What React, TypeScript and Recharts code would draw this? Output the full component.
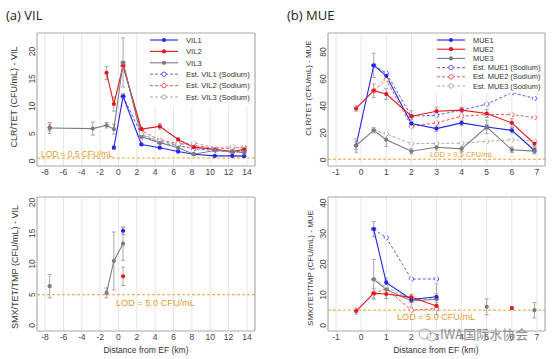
import React from 'react';
import { CartesianGrid, ErrorBar, Line, LineChart, ReferenceArea, ReferenceLine, XAxis, YAxis } from 'recharts';

const FONT = '"Liberation Sans", Arial, sans-serif';

// distance from EF (km)
const vilKm = [-7.5, -2.8, -1.3, -0.5, 0.5, 2.5, 4.5, 6.5, 8.2, 10.5, 12.4, 13.7];
const mueKm = [-0.2, 0.5, 1, 2, 3, 4, 5, 6, 6.9];

// tick labels
const vilTicks = [-8, -6, -4, -2, 0, 2, 4, 6, 8, 10, 12, 14];
const mueTicks = [-1, 0, 1, 2, 3, 4, 5, 6, 7];
const vilClrTicks = [0, 5, 10, 15, 20];
const vilSmxTicks = [0, 5, 10, 15, 20];
const mueClrTicks = [0, 20, 40, 60, 80];
const mueSmxTicks = [0, 10, 20, 30, 40];

// (a) VIL - CLR/TET
const vil1Clr = [null, null, null, 2.4, 11.8, 3.0, 2.4, 1.7, 1.2, 0.9, 0.9, 0.85];
const vil2Clr = [6.1, null, 16.1, 10.4, 17.4, 5.8, 6.3, 3.9, 2.5, 2.1, 1.7, 2.1];
const vil3Clr = [6.0, 5.9, 6.5, 5.8, 18.0, 4.4, 3.3, 2.4, 1.2, 1.9, 1.7, 1.5];
const vil1ClrErr = [null, null, null, 0.3, 0.5, 0.2, 0.2, 0.2, 0.1, 0.1, 0.1, 0.1];
const vil2ClrErr = [0.6, null, 1.2, 1.3, 0.8, 0.4, 0.5, 0.3, 0.2, 0.2, 0.2, 0.2];
const vil3ClrErr = [1.0, 1.2, 0.5, 0.9, 4.5, 0.4, 0.3, 0.3, 0.2, 0.2, 0.2, 0.2];
const estVil1Clr = [null, null, null, null, 11.8, 4.8, 3.3, 2.8, 2.2, 1.9, 1.6, 1.8];
const estVil2Clr = [null, null, null, null, 17.4, 5.5, 3.8, 3.2, 2.8, 2.3, 2.3, 2.5];
const estVil3Clr = [null, null, null, null, 18.0, 4.9, 3.6, 3.0, 3.3, 2.4, 2.6, 2.3];

// (a) VIL - SMX/TET/TMP
const vil1Smx = [null, null, null, null, 15.4, null, null, null, null, null, null, null];
const vil2Smx = [null, null, null, null, 8.0, null, null, null, null, null, null, null];
const vil3Smx = [6.4, null, 5.3, 10.5, 13.3, null, null, null, null, null, null, null];
const vil1SmxErr = [null, null, null, null, 0.6, null, null, null, null, null, null, null];
const vil2SmxErr = [null, null, null, null, 1.5, null, null, null, null, null, null, null];
const vil3SmxErr = [1.9, null, 0.8, 4.7, 2.7, null, null, null, null, null, null, null];

// (b) MUE - CLR/TET
const mue1Clr = [10.7, 70, 62.3, 26.9, 23.2, 27.4, 24.4, 21.9, 7];
const mue2Clr = [38.1, 51.3, 48.8, 32.4, 36.1, 36.9, 34.4, 27.4, 12];
const mue3Clr = [10.7, 21.9, 15, 6.4, 9.4, 8.2, 24.4, 7.5, 6.5];
const mue1ClrErr = [3, 9, 2, 3, 2, 2, 2, 2, 2];
const mue2ClrErr = [2, 5, 4, 4, 3, 2, 3, 3, 2];
const mue3ClrErr = [5, 2, 5, 2, 2, 2, 5, 2, 2];
const estMue1Clr = [null, 70, 64.3, 32.4, 33.1, 36.9, 41.3, 49.8, 45.6];
const estMue2Clr = [null, 51.3, 59.3, 24.9, 27.4, 32.4, 33.6, 33.6, 31.4];
const estMue3Clr = [null, 21.9, 19.4, 12, 12.2, 12.4, 13.7, 15, 14];

// (b) MUE - SMX/TET/TMP
const mue1Smx = [null, 31.5, 14, 8.5, 9.4, null, null, null, null];
const mue2Smx = [4.7, 10.5, 10.3, 9.2, 6.4, null, null, 5.7, null];
const mue3Smx = [null, 15.1, 11.8, 8.0, 8.6, null, 6.1, null, 5.0];
const mue1SmxErr = [null, 2.5, 1.5, 1, 1, null, null, null, null];
const mue2SmxErr = [1, 1.5, 1.5, 1, 1, null, null, 0.5, null];
const mue3SmxErr = [null, 6.5, 3, 2, 5, null, 2.6, null, 2.5];
const estMue1Smx = [null, 31.5, 28.7, 15.2, 15.2, null, null, null, null];
const estMue2Smx = [null, 10.5, 12, 5.0, 5.5, null, null, null, null];
const estMue3Smx = [null, 15.1, 12.5, 8.5, 8.8, null, null, null, null];

const BLUE = '#2424ea';
const RED = '#e5161e';
const GRAY = '#7c7c7c';
const EST_BLUE = '#5c5cf2';
const EST_RED = '#f05c5c';
const EST_GRAY = '#adadad';
const ERR = '#a8a8a8';
const LOD = '#eca23c';
const LOD_TEXT = '#e39b2e';

type Val = number | null;
type Series = { name: string; ys: Val[]; errs?: Val[]; color: string; est?: boolean };

const toPoints = (xs: number[], ys: Val[], errs?: Val[]) =>
  xs.map((x, i) => ({ x, y: ys[i], err: errs ? errs[i] : null }));

const rotTick = (fs: number) => (props: any) => {
  const { x, y, payload } = props;
  return (
    <text x={x} y={y} transform={`rotate(-90 ${x} ${y})`} textAnchor="middle" fontSize={fs} fill="#444" fontFamily={FONT}>
      {payload.value}
    </text>
  );
};

type PanelProps = {
  left: number; top: number; height: number; yWidth: number; mTop: number; mBottom: number;
  km: number[]; xDomain: [number, number]; xTicks: number[];
  yDomain: [number, number]; yTicks: number[]; series: Series[]; lod: number; fs: number;
};

const Panel = (p: PanelProps) => {
  const ordered = [...p.series.filter(s => s.est), ...p.series.filter(s => !s.est)];
  return (
    <div style={{ position: 'absolute', left: p.left, top: p.top }}>
      <LineChart width={262} height={p.height} margin={{ top: p.mTop, right: 7, bottom: p.mBottom, left: 0 }}>
        <CartesianGrid horizontal={false} stroke="#e6e6e6" />
        <XAxis type="number" dataKey="x" domain={p.xDomain} ticks={p.xTicks} allowDataOverflow interval={0}
          axisLine={false} tickLine={false} tickSize={0} tickMargin={3} height={14}
          tick={{ fontSize: p.fs, fill: '#444', fontFamily: FONT }} />
        <YAxis type="number" domain={p.yDomain} ticks={p.yTicks} allowDataOverflow interval={0} width={p.yWidth}
          axisLine={false} tickLine={false} tickSize={0} tickMargin={2} tick={rotTick(p.fs)} />
        <ReferenceArea x1={p.xDomain[0]} x2={p.xDomain[1]} y1={p.yDomain[0]} y2={p.yDomain[1]}
          fill="none" fillOpacity={0} stroke="#a8a8a8" strokeWidth={1} ifOverflow="visible" />
        <ReferenceLine y={p.lod} stroke={LOD} strokeDasharray="3 2" strokeWidth={1} />
        {ordered.map(s => (
          <Line key={s.name} data={toPoints(p.km, s.ys, s.errs)} dataKey="y" name={s.name}
            stroke={s.color} strokeWidth={s.est ? 1 : 1.1} strokeDasharray={s.est ? '3 2' : undefined}
            dot={s.est ? { r: 2.2, fill: '#fff', stroke: s.color, strokeWidth: 1 } : { r: 2.1, fill: s.color, stroke: s.color, strokeWidth: 0 }}
            activeDot={false} isAnimationActive={false}>
            {s.errs && <ErrorBar dataKey="err" width={2} stroke={ERR} strokeWidth={1} />}
          </Line>
        ))}
      </LineChart>
    </div>
  );
};

const vilClrSeries: Series[] = [
  { name: 'VIL1', ys: vil1Clr, errs: vil1ClrErr, color: BLUE },
  { name: 'VIL2', ys: vil2Clr, errs: vil2ClrErr, color: RED },
  { name: 'VIL3', ys: vil3Clr, errs: vil3ClrErr, color: GRAY },
  { name: 'Est. VIL1 (Sodium)', ys: estVil1Clr, color: EST_BLUE, est: true },
  { name: 'Est. VIL2 (Sodium)', ys: estVil2Clr, color: EST_RED, est: true },
  { name: 'Est. VIL3 (Sodium)', ys: estVil3Clr, color: EST_GRAY, est: true },
];
const vilSmxSeries: Series[] = [
  { name: 'VIL3', ys: vil3Smx, errs: vil3SmxErr, color: GRAY },
  { name: 'VIL1', ys: vil1Smx, errs: vil1SmxErr, color: BLUE },
  { name: 'VIL2', ys: vil2Smx, errs: vil2SmxErr, color: RED },
];
const mueClrSeries: Series[] = [
  { name: 'MUE1', ys: mue1Clr, errs: mue1ClrErr, color: BLUE },
  { name: 'MUE2', ys: mue2Clr, errs: mue2ClrErr, color: RED },
  { name: 'MUE3', ys: mue3Clr, errs: mue3ClrErr, color: GRAY },
  { name: 'Est. MUE1 (Sodium)', ys: estMue1Clr, color: EST_BLUE, est: true },
  { name: 'Est. MUE2 (Sodium)', ys: estMue2Clr, color: EST_RED, est: true },
  { name: 'Est. MUE3 (Sodium)', ys: estMue3Clr, color: EST_GRAY, est: true },
];
const mueSmxSeries: Series[] = [
  { name: 'MUE3', ys: mue3Smx, errs: mue3SmxErr, color: GRAY },
  { name: 'MUE1', ys: mue1Smx, errs: mue1SmxErr, color: BLUE },
  { name: 'MUE2', ys: mue2Smx, errs: mue2SmxErr, color: RED },
  { name: 'Est. MUE1 (Sodium)', ys: estMue1Smx, color: EST_BLUE, est: true },
  { name: 'Est. MUE2 (Sodium)', ys: estMue2Smx, color: EST_RED, est: true },
  { name: 'Est. MUE3 (Sodium)', ys: estMue3Smx, color: EST_GRAY, est: true },
];

const LegendBox = ({ x, y, w, rowH, fs, series }: { x: number; y: number; w: number; rowH: number; fs: number; series: Series[] }) => (
  <g>
    <rect x={x} y={y} width={w} height={rowH * series.length + 4} fill="#fff" />
    {series.map((s, i) => {
      const cy = y + 6 + i * rowH;
      const x0 = x + 4, x1 = x + 32, mid = (x0 + x1) / 2;
      return (
        <g key={s.name}>
          <line x1={x0} x2={x1} y1={cy} y2={cy} stroke={s.color} strokeWidth={s.est ? 1 : 1.1} strokeDasharray={s.est ? '3 2' : undefined} />
          {s.est
            ? <circle cx={mid} cy={cy} r={2.2} fill="#fff" stroke={s.color} strokeWidth={1} />
            : <circle cx={mid} cy={cy} r={2.1} fill={s.color} />}
          <text x={x1 + 8} y={cy + fs * 0.36} fontSize={fs} fill="#333" fontFamily={FONT}>{s.name}</text>
        </g>
      );
    })}
  </g>
);

const vText = (cx: number, cy: number, fs: number, s: string) => (
  <text x={cx} y={cy} transform={`rotate(-90 ${cx} ${cy})`} textAnchor="middle" fontSize={fs} fill="#333" fontFamily={FONT}>{s}</text>
);

const App = () => (
  <div style={{ position: 'absolute', left: 0, top: 0, width: 557, height: 359, overflow: 'hidden', background: '#fff' }}>
    <Panel left={0} top={0} height={180} yWidth={37} mTop={33} mBottom={0} km={vilKm}
      xDomain={[-8.88, 14.88]} xTicks={vilTicks} yDomain={[-0.95, 23.4]} yTicks={vilClrTicks}
      series={vilClrSeries} lod={0.5} fs={8.5} />
    <Panel left={0} top={180} height={179} yWidth={37} mTop={17} mBottom={14} km={vilKm}
      xDomain={[-8.88, 14.88]} xTicks={vilTicks} yDomain={[-0.9, 20.9]} yTicks={vilSmxTicks}
      series={vilSmxSeries} lod={5} fs={8.5} />
    <Panel left={290} top={0} height={180} yWidth={38} mTop={33} mBottom={0} km={mueKm}
      xDomain={[-1.32, 7.32]} xTicks={mueTicks} yDomain={[-4.5, 94]} yTicks={mueClrTicks}
      series={mueClrSeries} lod={0.5} fs={8.5} />
    <Panel left={290} top={180} height={179} yWidth={38} mTop={17} mBottom={14} km={mueKm}
      xDomain={[-1.32, 7.32]} xTicks={mueTicks} yDomain={[-1.8, 42]} yTicks={mueSmxTicks}
      series={mueSmxSeries} lod={5} fs={8.5} />
    <svg width={557} height={359} style={{ position: 'absolute', left: 0, top: 0, pointerEvents: 'none' }}>
      <text x={6} y={20} fontSize={13} fill="#222" fontFamily='"Open Sans", sans-serif'>(a) VIL</text>
      <text x={287} y={20} fontSize={13} fill="#222" fontFamily='"Open Sans", sans-serif'>(b) MUE</text>
      {vText(17, 97, 9, 'CLR/TET (CFU/mL) - VIL')}
      {vText(18, 267, 9, 'SMX/TET/TMP (CFU/mL) - VIL')}
      {vText(311, 88, 8, 'CLR/TET (CFU/mL) - MUE')}
      {vText(313, 268, 8, 'SMX/TET/TMP (CFU/mL) - MUE')}
      <text x={146} y={353} textAnchor="middle" fontSize={8.5} fill="#333" fontFamily={FONT}>Distance from EF (km)</text>
      <text x={436} y={353} textAnchor="middle" fontSize={8.5} fill="#333" fontFamily={FONT}>Distance from EF (km)</text>
      <text x={41} y={156.5} fontSize={8.4} fill={LOD_TEXT} fontFamily={FONT}>LOD = 0.5 CFU/mL</text>
      <text x={116} y={305.5} fontSize={9.2} fill={LOD_TEXT} fontFamily={FONT}>LOD = 5.0 CFU/mL</text>
      <text x={430} y={157} fontSize={7.4} fill={LOD_TEXT} fontFamily={FONT}>LOD = 0.5 CFU/mL</text>
      <text x={397} y={320} fontSize={9.1} fill={LOD_TEXT} fontFamily={FONT}>LOD = 5.0 CFU/mL</text>
      <LegendBox x={146} y={34} w={107} rowH={11.4} fs={7.6} series={vilClrSeries} />
      <LegendBox x={433} y={34} w={110} rowH={9.2} fs={7.4} series={mueClrSeries} />
      <ellipse cx={425} cy={334} rx={6} ry={5} fill="none" stroke="#aaa" strokeWidth={1} />
      <ellipse cx={432} cy={337} rx={5} ry={4} fill="none" stroke="#aaa" strokeWidth={1} />
      <text x={440} y={339} fontSize={13} fill="#8c8c8c" fontFamily='"Noto Sans CJK SC", sans-serif'>IWA国际水协会</text>
    </svg>
  </div>
);

export default App;
